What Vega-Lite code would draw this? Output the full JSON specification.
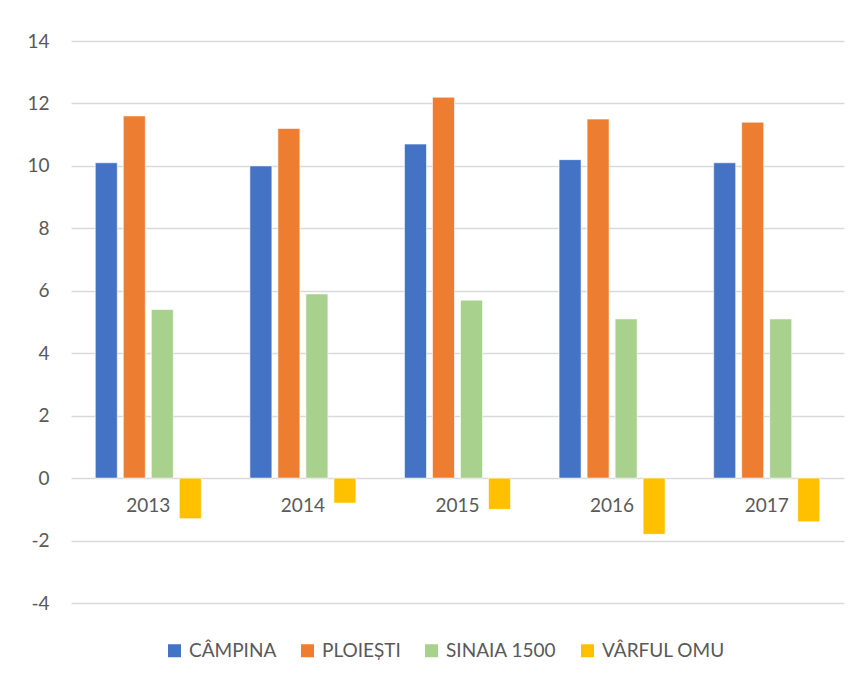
{
  "$schema": "https://vega.github.io/schema/vega-lite/v6.json",
  "width": 773,
  "height": 562,
  "autosize": {"type": "none"},
  "padding": {"left": 71, "top": 41, "right": 14, "bottom": 76},
  "background": "white",
  "data": {
    "values": [
      {"year": "2013", "station": "CÂMPINA", "value": 10.1},
      {"year": "2013", "station": "PLOIEȘTI", "value": 11.6},
      {"year": "2013", "station": "SINAIA 1500", "value": 5.4},
      {"year": "2013", "station": "VÂRFUL OMU", "value": -1.3},
      {"year": "2014", "station": "CÂMPINA", "value": 10.0},
      {"year": "2014", "station": "PLOIEȘTI", "value": 11.2},
      {"year": "2014", "station": "SINAIA 1500", "value": 5.9},
      {"year": "2014", "station": "VÂRFUL OMU", "value": -0.8},
      {"year": "2015", "station": "CÂMPINA", "value": 10.7},
      {"year": "2015", "station": "PLOIEȘTI", "value": 12.2},
      {"year": "2015", "station": "SINAIA 1500", "value": 5.7},
      {"year": "2015", "station": "VÂRFUL OMU", "value": -1.0},
      {"year": "2016", "station": "CÂMPINA", "value": 10.2},
      {"year": "2016", "station": "PLOIEȘTI", "value": 11.5},
      {"year": "2016", "station": "SINAIA 1500", "value": 5.1},
      {"year": "2016", "station": "VÂRFUL OMU", "value": -1.8},
      {"year": "2017", "station": "CÂMPINA", "value": 10.1},
      {"year": "2017", "station": "PLOIEȘTI", "value": 11.4},
      {"year": "2017", "station": "SINAIA 1500", "value": 5.1},
      {"year": "2017", "station": "VÂRFUL OMU", "value": -1.4}
    ]
  },
  "mark": {"type": "bar", "stroke": "white", "strokeWidth": 0.6},
  "encoding": {
    "x": {
      "field": "year", "type": "nominal",
      "scale": {"paddingInner": 0.314, "paddingOuter": 0.157},
      "axis": {
        "title": null, "domain": false, "ticks": false, "offset": -125,
        "labelAngle": 0, "labelPadding": 18, "labelFont": "Lato", "labelFontSize": 19,
        "labelColor": "#595959"
      }
    },
    "xOffset": {
      "field": "station", "type": "nominal",
      "scale": {"domain": ["CÂMPINA", "PLOIEȘTI", "SINAIA 1500", "VÂRFUL OMU"], "paddingInner": 0.214, "paddingOuter": 0}
    },
    "y": {
      "field": "value", "type": "quantitative",
      "scale": {"domain": [-4, 14], "nice": false, "zero": false},
      "axis": {
        "title": null, "domain": false, "ticks": false,
        "values": [-4, -2, 0, 2, 4, 6, 8, 10, 12, 14],
        "labelExpr": "replace(datum.label, '\u2212', '-')",
        "labelPadding": 22, "labelFont": "Lato", "labelFontSize": 19, "labelColor": "#595959",
        "gridColor": "#d9d9d9", "gridWidth": 1.3
      }
    },
    "color": {
      "field": "station", "type": "nominal",
      "scale": {
        "domain": ["CÂMPINA", "PLOIEȘTI", "SINAIA 1500", "VÂRFUL OMU"],
        "range": ["#4472C4", "#ED7D31", "#A9D18E", "#FFC000"]
      },
      "legend": {
        "title": null, "orient": "none", "legendX": 94, "legendY": 600, "direction": "horizontal",
        "symbolType": "square", "symbolSize": 169, "symbolStrokeWidth": 0,
        "labelFont": "Lato", "labelFontSize": 19, "labelColor": "#595959",
        "labelOffset": 5, "columnPadding": 21, "labelLimit": 300
      }
    }
  },
  "config": {"view": {"stroke": null}}
}
